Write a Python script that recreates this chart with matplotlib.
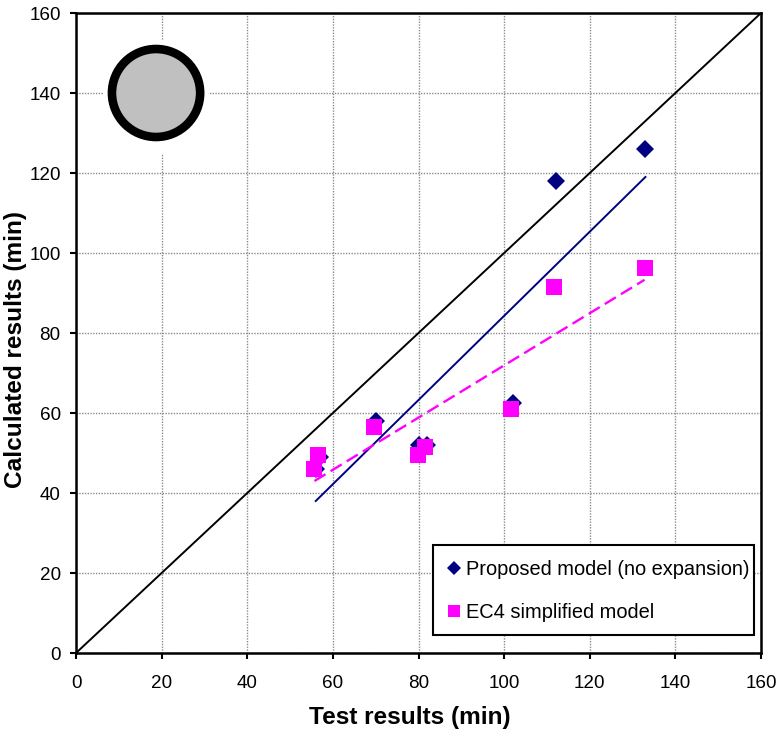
import matplotlib
matplotlib.use('Agg')
import matplotlib.pyplot as plt
from matplotlib.patches import Ellipse, Rectangle

plt.rcParams['font.family'] = ['Liberation Sans', 'DejaVu Sans']

# Values
proposed_x = [56, 57, 70, 80, 82, 102, 112, 133]
proposed_y = [46, 49, 58, 52, 52, 62.5, 118, 126]
ec4_x = [55.7, 56.5, 69.7, 79.8, 81.5, 101.5, 111.6, 132.8]
ec4_y = [46, 49.5, 56.5, 49.5, 51.5, 61, 91.6, 96.2]

proposed_trend_x = [56, 133]
proposed_trend_y = [38, 119]
ec4_trend_x = [55.7, 132.8]
ec4_trend_y = [43, 93.3]
unity = [0, 160]
ticks = [0, 20, 40, 60, 80, 100, 120, 140, 160]

fig = plt.figure(figsize=(7.79, 7.29), dpi=100)
ax = fig.add_axes([76 / 779, 1 - 653 / 729, 685 / 779, 640 / 729])

ax.plot(unity, unity, color='black', lw=1.4, zorder=3)
ax.plot(proposed_trend_x, proposed_trend_y, color='#000080', lw=1.4, zorder=3)
ax.plot(ec4_trend_x, ec4_trend_y, color='#ff00ff', lw=1.7, dashes=(5.5, 2.5), zorder=3)
ax.plot(proposed_x, proposed_y, ls='none', marker='D', ms=9.4, color='#000080', mew=0, zorder=4,
        label='Proposed model (no expansion)')
ax.plot(ec4_x, ec4_y, ls='none', marker='s', ms=11, color='#ff00ff', mew=0, zorder=5,
        label='EC4 simplified model')

# cross-section icon
ax.add_patch(Ellipse((18.9, 139), 24.8, 28.7, fc='white', ec='none', zorder=2))
ax.add_patch(Ellipse((18.7, 140), 20.6, 22.0, fc='#c0c0c0', ec='black', lw=6.2, zorder=3))

ax.set_xlim(0, 160)
ax.set_ylim(0, 160)
ax.set_xticks(ticks)
ax.set_yticks(ticks)
ax.tick_params(labelsize=13.6, width=1.5, length=4.5, colors='black')
ax.tick_params(axis='x', pad=11)
ax.tick_params(axis='y', pad=6.5)
ax.grid(True, color='#8c8c8c', lw=1.0, ls=(0, (1, 1)))
ax.set_axisbelow(True)
for s in ax.spines.values():
    s.set_linewidth(1.8)

ax.set_xlabel('Test results (min)', fontsize=17.6, fontweight='bold')
ax.set_ylabel('Calculated results (min)', fontsize=17.6, fontweight='bold')
ax.xaxis.set_label_coords((410 - 76) / 685, (653 - 706) / 640)
ax.yaxis.set_label_coords((27 - 76) / 685, (653 - 350) / 640)

# legend box drawn apart, its padding differs left/right and top/bottom
ax.add_patch(Rectangle(((433 - 76) / 685, (653 - 635) / 640), 321 / 685, 90 / 640, transform=ax.transAxes,
                       fc='white', ec='black', lw=1.5, zorder=9))
leg = ax.legend(loc='lower right', bbox_to_anchor=((755 - 76) / 685, (653 - 628) / 640), fontsize=14.4,
                frameon=False, labelspacing=1.2, handletextpad=0.1, handlelength=1.0, borderpad=0.3,
                borderaxespad=0, markerscale=0.75)
leg.set_zorder(10)

fig.savefig('out.png', dpi=100)
